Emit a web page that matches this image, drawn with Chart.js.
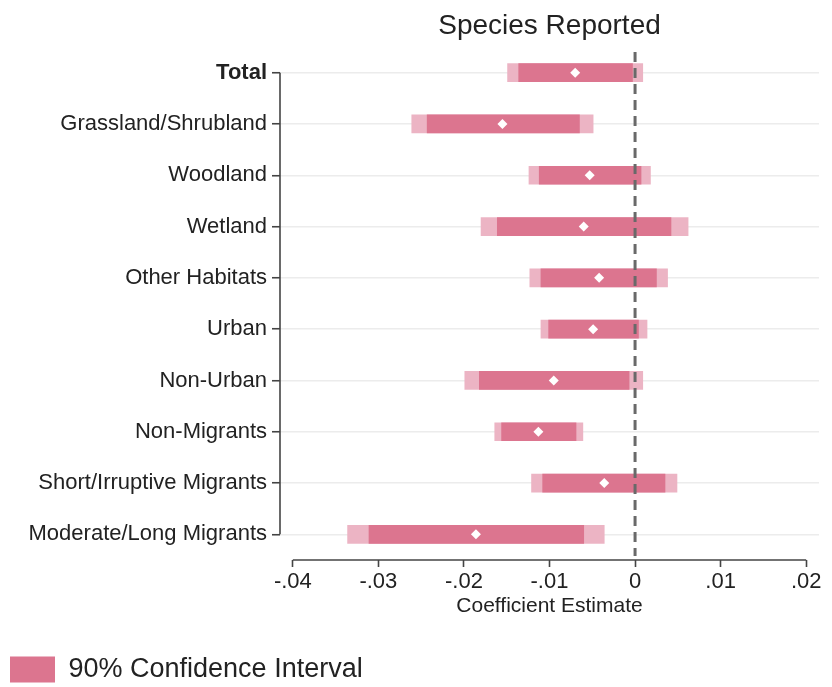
<!DOCTYPE html>
<html>
<head>
<meta charset="utf-8">
<script src="https://cdn.jsdelivr.net/npm/chart.js@4.4.0/dist/chart.umd.min.js"></script>
<style>
  html, body { margin: 0; padding: 0; background: #fff; }
  #wrap { width: 832px; height: 687px; }
</style>
</head>
<body>
<div id="wrap"><canvas id="grafico"></canvas></div>
<script>
// categorias y valores
const categorias = [
  "Total", "Grassland/Shrubland", "Woodland", "Wetland", "Other Habitats",
  "Urban", "Non-Urban", "Non-Migrants", "Short/Irruptive Migrants", "Moderate/Long Migrants"
];
const estimacion = [-0.0070, -0.0155, -0.0053, -0.0060, -0.0042, -0.0049, -0.0095, -0.0113, -0.0036, -0.0186];
const ic90Bajo = [-0.0136, -0.0243, -0.0112, -0.0161, -0.0110, -0.0101, -0.0182, -0.0156, -0.0108, -0.0311];
const ic90Alto = [-0.0003, -0.0065, 0.0007, 0.0042, 0.0025, 0.0004, -0.0007, -0.0069, 0.0035, -0.0060];
const ic95Bajo = [-0.0149, -0.0261, -0.0124, -0.0180, -0.0123, -0.0110, -0.0199, -0.0164, -0.0121, -0.0336];
const ic95Alto = [0.0009, -0.0049, 0.0018, 0.0062, 0.0038, 0.0014, 0.0009, -0.0061, 0.0049, -0.0036];
const xTicks = [-0.04, -0.03, -0.02, -0.01, 0, 0.01, 0.02];
const xTickLabels = ["-.04", "-.03", "-.02", "-.01", "0", ".01", ".02"];

const fuente = "'Liberation Sans', Arial, Helvetica, sans-serif";
const rosaOscuro = "rgb(220,117,143)";
const rosaClaro = "rgb(236,180,196)";

// titulo, ejes y linea del cero (estilo Stata)
const extrasPlugin = {
  id: "extras",
  afterDatasetsDraw(chart) {
    const { ctx, chartArea, scales } = chart;
    const x = scales.x, y = scales.y;
    ctx.save();
    // linea punteada en 0
    const x0 = x.getPixelForValue(0);
    ctx.strokeStyle = "rgb(105,105,105)";
    ctx.lineWidth = 3;
    ctx.setLineDash([10, 6]);
    ctx.beginPath();
    ctx.moveTo(x0, chartArea.top + 5);
    ctx.lineTo(x0, chartArea.bottom - 4);
    ctx.stroke();
    ctx.setLineDash([]);
    // eje y
    ctx.strokeStyle = "#444";
    ctx.lineWidth = 1.6;
    ctx.beginPath();
    ctx.moveTo(chartArea.left, y.getPixelForValue(0));
    ctx.lineTo(chartArea.left, y.getPixelForValue(categorias.length - 1));
    ctx.stroke();
    // eje x
    ctx.beginPath();
    ctx.moveTo(x.getPixelForValue(xTicks[0]), chartArea.bottom);
    ctx.lineTo(x.getPixelForValue(xTicks[xTicks.length - 1]), chartArea.bottom);
    ctx.stroke();
    ctx.restore();
  },
  afterDraw(chart) {
    const { ctx, chartArea } = chart;
    ctx.save();
    ctx.fillStyle = "#222";
    ctx.font = "28px " + fuente;
    ctx.textAlign = "center";
    ctx.textBaseline = "middle";
    ctx.fillText("Species Reported", (chartArea.left + chartArea.right) / 2, 26);
    ctx.restore();
  }
};

new Chart(document.getElementById("grafico"), {
  type: "bar",
  data: {
    labels: categorias,
    datasets: [
      {
        type: "line",
        label: "Estimate",
        data: estimacion,
        showLine: false,
        pointStyle: "rectRot",
        pointRadius: 5,
        pointBackgroundColor: "#fff",
        pointBorderWidth: 0,
        order: 0
      },
      {
        label: "90% Confidence Interval",
        data: categorias.map((c, i) => [ic90Bajo[i], ic90Alto[i]]),
        backgroundColor: rosaOscuro,
        borderWidth: 0,
        barThickness: 18,
        grouped: false,
        order: 1
      },
      {
        label: "95% Confidence Interval",
        data: categorias.map((c, i) => [ic95Bajo[i], ic95Alto[i]]),
        backgroundColor: rosaClaro,
        borderWidth: 0,
        barThickness: 18,
        grouped: false,
        order: 2
      }
    ]
  },
  options: {
    indexAxis: "y",
    responsive: true,
    maintainAspectRatio: false,
    animation: false,
    layout: { padding: { top: 47, right: 13, bottom: -6, left: 0 } },
    scales: {
      x: {
        type: "linear",
        min: -0.0415,
        max: 0.0215,
        afterBuildTicks: s => { s.ticks = xTicks.map(v => ({ value: v })); },
        afterFit: s => { s.height = 86; },
        border: { display: false },
        grid: { drawOnChartArea: false, tickLength: 7, tickColor: "#444", tickWidth: 1.6 },
        ticks: {
          color: "#222",
          font: { family: fuente, size: 22 },
          padding: 2,
          maxRotation: 0,
          autoSkip: false,
          callback: (v, i) => xTickLabels[i]
        },
        title: {
          display: true,
          text: "Coefficient Estimate",
          color: "#222",
          font: { family: fuente, size: 21 },
          padding: { top: 0, bottom: 27 }
        }
      },
      y: {
        afterFit: s => { s.width = 280; },
        border: { display: false },
        grid: { offset: false, color: "rgb(236,236,236)", lineWidth: 1.5, tickLength: 8, tickColor: "#444", tickWidth: 1.6 },
        ticks: {
          color: "#222",
          padding: 5,
          autoSkip: false,
          font: ctx => ({ family: fuente, size: 22, weight: ctx.index === 0 ? "bold" : "normal" })
        }
      }
    },
    plugins: {
      legend: {
        position: "bottom",
        align: "start",
        labels: {
          filter: item => item.text === "90% Confidence Interval",
          boxWidth: 45,
          boxHeight: 26,
          padding: 10,
          color: "#222",
          font: { family: fuente, size: 27 }
        }
      },
      tooltip: { enabled: false }
    }
  },
  plugins: [extrasPlugin]
});
</script>
</body>
</html>
